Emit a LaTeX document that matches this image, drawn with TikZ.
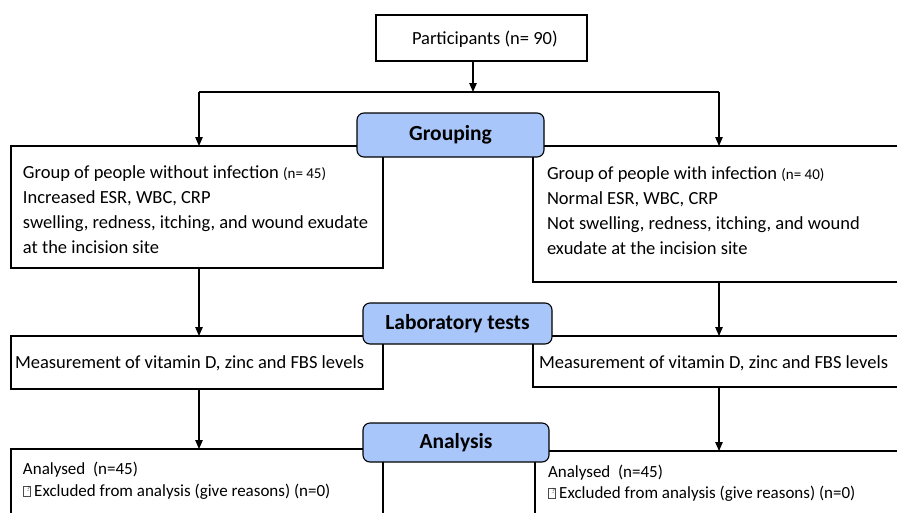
\documentclass[tikz,border=0pt]{standalone}
\usepackage{fontspec}
\setmainfont{Carlito}
\usetikzlibrary{arrows.meta}
\definecolor{labelblue}{RGB}{169,198,250}
\tikzset{
  box/.style={draw=black, line width=1.1pt, fill=white, rectangle, anchor=north west, inner sep=0pt, outer sep=0pt},
  stagelabel/.style={draw=black, line width=1.1pt, fill=labelblue, rounded corners=7pt, inner sep=0pt, outer sep=0pt, font=\fontsize{21.5}{24}\selectfont\bfseries},
  txt/.style={anchor=base west, inner sep=0pt, outer sep=0pt, font=\fontsize{18.5}{22}\selectfont},
  smalltxt/.style={anchor=base west, inner sep=0pt, outer sep=0pt, font=\fontsize{17}{20}\selectfont},
  conn/.style={line width=1.1pt, draw=black},
  arr/.style={conn, -{Triangle[length=9pt,width=7.5pt]}},
}
\newcommand{\tofu}{\tikz[baseline=0pt]{\draw[line width=0.4pt, draw=black!70] (0,0) rectangle (7pt,10pt); \node[inner sep=0pt, text=black!80, font=\fontsize{7.5}{8}\selectfont] at (3.5pt,5pt) {?};}}
\begin{document}
\begin{tikzpicture}[x=1pt,y=-1pt]
\useasboundingbox (0,0) rectangle (897,512);
\clip (0,0) rectangle (897,512);

% participants
\node[box, minimum width=211pt, minimum height=46pt] (part) at (376,15) {};
\node[txt] (parttxt) at (412,44) {Participants (n= 90)};

\coordinate (split) at (473,92);
\coordinate (jl) at (199,92);
\coordinate (jr) at (719,92);

% group boxes
\node[box, minimum width=372pt, minimum height=122pt] (gl) at (11,146) {};
\node[box, minimum width=380pt, minimum height=136pt] (gr) at (533,146) {};

% measurement boxes
\node[box, minimum width=372pt, minimum height=53pt] (ml) at (11,336) {};
\node[box, minimum width=380pt, minimum height=51pt] (mr) at (533,336) {};

% analysis boxes
\node[box, minimum width=372pt, minimum height=100pt] (al) at (11,449) {};
\node[box, minimum width=380pt, minimum height=100pt] (ar) at (535,451) {};

% connectors
\draw[arr] (part.south -| split) -- (split);
\draw[conn] (jl) -- (jr);
\draw[arr] (jl) -- (gl.north -| jl);
\draw[arr] (jr) -- (gr.north -| jr);
\draw[arr] (gl.south -| jl) -- (ml.north -| jl);
\draw[arr] (gr.south -| jr) -- (mr.north -| jr);
\draw[arr] (ml.south -| jl) -- (al.north -| jl);
\draw[arr] (mr.south -| jr) -- (ar.north -| jr);

% texts
\node[txt] (gl1) at (23,178) {Group of people without infection {\fontsize{15}{17}\selectfont (n= 45)}};
\node[txt] (gl2) at (23,203) {Increased ESR, WBC, CRP};
\node[txt] (gl3) at (23,228) {swelling, redness, itching, and wound exudate};
\node[txt] (gl4) at (23,253) {at the incision site};

\node[txt] (gr1) at (547,179) {Group of people with infection {\fontsize{15}{17}\selectfont (n= 40)}};
\node[txt] (gr2) at (547,204) {Normal ESR, WBC, CRP};
\node[txt] (gr3) at (547,229) {Not swelling, redness, itching, and wound};
\node[txt] (gr4) at (547,254) {exudate at the incision site};

\node[txt] (ml1) at (15,368) {Measurement of vitamin D, zinc and FBS levels};
\node[txt] (mr1) at (539,368) {Measurement of vitamin D, zinc and FBS levels};

\node[smalltxt] (al1) at (23,474) {Analysed\ \ (n=45)};
\node[smalltxt] (al2) at (23,496) {\tofu\ Excluded from analysis (give reasons) (n=0)};
\node[smalltxt] (ar1) at (548,477) {Analysed\ \ (n=45)};
\node[smalltxt] (ar2) at (548,498) {\tofu\ Excluded from analysis (give reasons) (n=0)};

% stage labels
\node[stagelabel, minimum width=187pt, minimum height=44pt, anchor=north west] (grouping) at (357,113) {Grouping};
\node[stagelabel, minimum width=189pt, minimum height=41pt, anchor=north west] (lab) at (363,303) {Laboratory tests};
\node[stagelabel, minimum width=186pt, minimum height=39pt, anchor=north west] (analysis) at (363,423) {Analysis};
\end{tikzpicture}
\end{document}
